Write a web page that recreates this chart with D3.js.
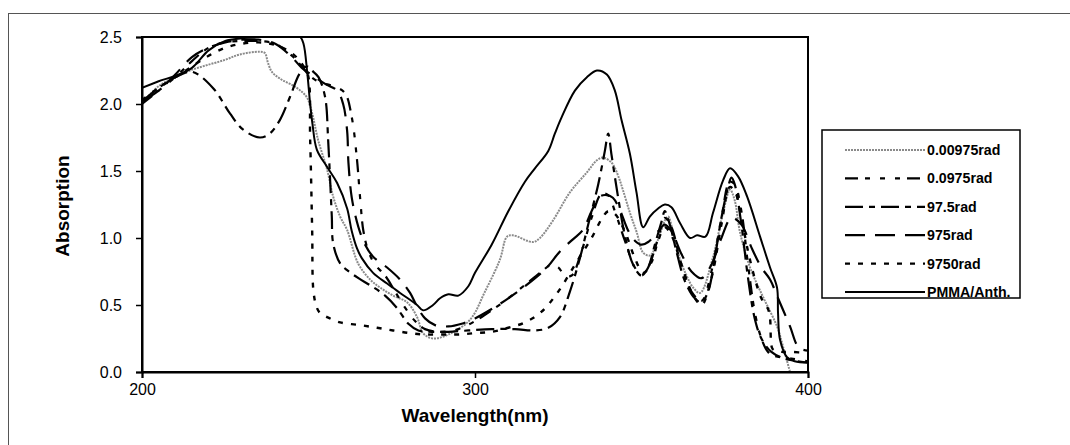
<!DOCTYPE html>
<html><head><meta charset="utf-8">
<script src="https://cdn.jsdelivr.net/npm/d3@7"></script>
<style>
body{margin:0;background:#fff}
svg{display:block}
text{font-family:"Liberation Sans",Arial,sans-serif;fill:#000}
</style></head>
<body><svg id="c" width="1070" height="445"></svg>
<script>
// ---------- data ----------
const xTicks = [200, 300, 400];
const yTicks = [0, 0.5, 1.0, 1.5, 2.0, 2.5];
const seriesNames = ["0.00975rad", "0.0975rad", "97.5rad", "975rad", "9750rad", "PMMA/Anth."];

const wl_00975 = [200,205.4,210,214.4,219.5,225,229.4,235.4,236.9,237.8,239,241.4,246.5,249.5,251,252.9,255.6,257.4,259.5,261.6,264.9,268.5,271.5,275.4,279.6,282.6,284.4,287.4,292,298.5,303,307.5,309.6,311.4,317.4,319.5,323.4,328.5,333.6,336.6,338.4,341.1,342.9,344.4,346.5,348.6,350.5,352.6,355,357,358,359.5,361.6,363.7,365.5,367.6,371.5,374.5,376.6,378,379.6,382.6,386.5,390.7,392.5,394.6];
const ab_00975 = [2.01,2.14,2.2,2.25,2.29,2.33,2.37,2.39,2.38,2.31,2.24,2.19,2.12,2.05,1.94,1.73,1.51,1.31,1.16,1.06,0.81,0.69,0.63,0.57,0.52,0.41,0.29,0.25,0.28,0.39,0.6,0.84,1.01,1.02,0.97,1.0,1.13,1.34,1.49,1.58,1.6,1.56,1.47,1.36,1.19,1.04,0.89,0.87,0.99,1.13,1.16,1.04,0.84,0.71,0.63,0.59,0.86,1.19,1.36,1.28,1.04,0.78,0.56,0.34,0.19,0.0];

const wl_0975 = [200,205,210,215,220,225,230,235,240,245,248,250,252,255,258,261,263,264.5,265.5,266.5,268,270,273,276,279,282,285,290,295,300,305,310,315,320,323,325,327,329,332,335,338,340,342,345,348,350,352,355,357,359,362,365,368,371,374,376.5,378,380,382,384,386,388,390,395,400];
const ab_0975 = [2.0,2.1,2.2,2.32,2.42,2.46,2.47,2.47,2.45,2.36,2.28,2.22,2.18,2.15,2.13,2.08,1.9,1.6,1.3,1.05,0.9,0.8,0.72,0.6,0.48,0.38,0.32,0.3,0.32,0.38,0.46,0.55,0.65,0.75,0.8,0.78,0.72,0.72,0.9,1.15,1.33,1.32,1.2,0.98,0.78,0.72,0.78,1.0,1.15,1.08,0.8,0.6,0.53,0.75,1.15,1.42,1.4,1.2,0.8,0.45,0.25,0.15,0.12,0.1,0.08];

const wl_975r = [200,205,210,215,221.3,226.4,230.3,235.4,238.4,241.4,244.4,247.4,249.5,251,253,255,255.9,256.5,257,257.4,259.5,261.6,265,269,273,276.5,280,283,287,292,298,305,312,318,322,325.5,328.5,331.5,334,337,339,340,341,343,345,347.5,350,352,354,356,357,358.5,360.5,363,366,368,370,372,374,376,377,378,380,382,384,386,389,393,400];
const ab_975r = [2.02,2.12,2.2,2.24,2.12,1.93,1.81,1.75,1.78,1.88,2.05,2.23,2.28,2.25,2.2,2.05,1.73,1.43,1.16,0.96,0.81,0.76,0.7,0.64,0.57,0.48,0.36,0.31,0.3,0.3,0.31,0.32,0.32,0.31,0.33,0.41,0.6,0.85,1.1,1.4,1.65,1.78,1.62,1.3,1.02,0.8,0.72,0.78,0.95,1.12,1.2,1.1,0.9,0.68,0.55,0.52,0.6,0.85,1.15,1.38,1.45,1.4,1.1,0.7,0.4,0.25,0.15,0.1,0.07];

const wl_975 = [200,205,210,215,220,225,230,235,240,245,248,252,255,258.6,260.4,261.6,262,263,265,267,269.4,273.6,277.5,280.5,282.6,285,288,292,296,300,305,310,315,321.6,325.5,329.4,332.4,335,337.5,339.6,341.4,343.5,345.9,348,350,352,355,357,359,362,365,368,371,374,377,380,383,386,388.6,391,394.6,396.7,398,400];
const ab_975 = [2.02,2.1,2.22,2.35,2.42,2.46,2.48,2.48,2.45,2.35,2.27,2.2,2.15,2.1,2.0,1.8,1.56,1.3,1.08,0.95,0.86,0.78,0.69,0.59,0.49,0.4,0.35,0.34,0.36,0.4,0.47,0.55,0.64,0.78,0.9,0.99,1.06,1.2,1.31,1.32,1.3,1.21,1.06,0.98,0.95,0.97,1.05,1.1,1.05,0.88,0.75,0.7,0.8,1.0,1.15,1.1,0.93,0.78,0.69,0.55,0.34,0.2,0.17,0.16];

const wl_9750 = [200,205,210,215,220,225,230,235,240,245,248,249.8,250.5,251.1,251.5,252.5,253.5,255.6,259.5,265.5,270.6,275.4,280.5,285,290,295,300,305,310,315,320,325,330,335,338,340,342,345,348,350.5,353,355,357,359,362,365,368,371,374,376.5,378,380,382,384,386,388,388.6,389.2,390,392,395,400];
const ab_9750 = [2.03,2.12,2.2,2.28,2.36,2.42,2.45,2.46,2.44,2.38,2.3,2.22,1.73,1.06,0.6,0.48,0.44,0.41,0.37,0.35,0.33,0.31,0.29,0.28,0.28,0.28,0.29,0.3,0.33,0.37,0.45,0.6,0.8,1.0,1.14,1.2,1.18,1.05,0.85,0.74,0.82,0.98,1.08,1.02,0.8,0.6,0.5,0.7,1.1,1.38,1.35,1.15,0.9,0.7,0.55,0.47,0.4,0.18,0.16,0.15,0.15,0.14];

const wl_pmma = [200,205,210,215,220,225,230,235,240,245,247.5,248.5,249.6,250.5,251.2,252.5,255.6,258.6,261.6,263,264.6,266,269.4,273.6,277.5,282.6,284.4,287.4,289.5,292,295,298,300,305,310,315,318,322,324,326,330,333.6,336.6,339.6,342,344,346.5,348.5,350.5,352.5,355,357,359,361.6,364.6,366.7,369.2,371.5,374.5,376.6,379,381.7,385.6,388.6,390.7,391,391.6,393.7,396,400];
const ab_pmma = [2.12,2.17,2.21,2.27,2.40,2.47,2.49,2.50,2.50,2.50,2.50,2.45,2.24,2.0,1.85,1.66,1.53,1.41,1.22,1.05,0.92,0.85,0.74,0.66,0.59,0.50,0.46,0.50,0.55,0.58,0.57,0.64,0.74,0.95,1.2,1.42,1.52,1.65,1.78,1.9,2.1,2.2,2.25,2.22,2.1,1.88,1.63,1.34,1.08,1.16,1.22,1.25,1.23,1.11,1.0,1.02,1.01,1.19,1.43,1.52,1.46,1.31,1.01,0.78,0.63,0.44,0.24,0.11,0.08,0.07];

// ---------- layout ----------
const svg = d3.select("#c");
const L = 142, R = 808, T = 37, B = 372;
const x = d3.scaleLinear().domain([200, 400]).range([L, R]);
const y = d3.scaleLinear().domain([0, 2.5]).range([B, T]);

// outer chart border (only top/left visible)
svg.append("rect").attr("x", 8.5).attr("y", 13.5).attr("width", 1200).attr("height", 600)
  .attr("fill", "none").attr("stroke", "#555").attr("stroke-width", 1);

svg.append("clipPath").attr("id", "clip").append("rect")
  .attr("x", L).attr("y", T - 1).attr("width", R - L).attr("height", B - T + 1);

const styles = [
  {wl: wl_00975, ab: ab_00975, color: "#8a8a8a", width: 2, dash: "2,1"},
  {wl: wl_0975, ab: ab_0975, color: "#000", width: 2.2, dash: "13,7,5,10,5,10,5,7"},
  {wl: wl_975r, ab: ab_975r, color: "#000", width: 2.2, dash: "18,6,6,6"},
  {wl: wl_975, ab: ab_975, color: "#000", width: 2.2, dash: "20,10"},
  {wl: wl_9750, ab: ab_9750, color: "#000", width: 2.4, dash: "5,8"},
  {wl: wl_pmma, ab: ab_pmma, color: "#000", width: 2, dash: null}
];

const line = d3.line().x(d => x(d[0])).y(d => y(d[1])).curve(d3.curveCatmullRom.alpha(0.5));
const g = svg.append("g").attr("clip-path", "url(#clip)");
styles.forEach(s => {
  g.append("path")
    .datum(s.wl.map((w, i) => [w, s.ab[i]]))
    .attr("d", line)
    .attr("fill", "none")
    .attr("stroke", s.color)
    .attr("stroke-width", s.width)
    .attr("stroke-dasharray", s.dash)
    .attr("stroke-linejoin", "round");
});

// plot frame
svg.append("rect").attr("x", L).attr("y", T).attr("width", R - L).attr("height", B - T)
  .attr("fill", "none").attr("stroke", "#000").attr("stroke-width", 2);

// axes
const yAxis = svg.append("g").attr("transform", `translate(${L},0)`)
  .call(d3.axisLeft(y).tickValues(yTicks).tickFormat(d3.format(".1f")).tickSize(6).tickPadding(14));
const xAxis = svg.append("g").attr("transform", `translate(0,${B})`)
  .call(d3.axisBottom(x).tickValues(xTicks).tickFormat(d3.format("d")).tickSize(6).tickPadding(6));
[yAxis, xAxis].forEach(a => {
  a.select(".domain").attr("stroke", "#000").attr("stroke-width", 2);
  a.selectAll(".tick line").attr("stroke", "#000").attr("stroke-width", 1.5);
  a.selectAll(".tick text").attr("font-family", "Liberation Sans, Arial, sans-serif")
    .attr("font-size", 16).attr("fill", "#000");
});

// titles
svg.append("text").attr("x", (L + R) / 2).attr("y", 422).attr("text-anchor", "middle")
  .attr("font-size", 19).attr("font-weight", "bold").text("Wavelength(nm)");
svg.append("text").attr("transform", "translate(69,206) rotate(-90)").attr("text-anchor", "middle")
  .style("font-family", "'Liberation Sans Narrow','Liberation Sans',Arial,sans-serif")
  .attr("font-size", 19).attr("font-weight", "bold").text("Absorption");

// legend
const lg = svg.append("g");
lg.append("rect").attr("x", 822).attr("y", 130).attr("width", 198).attr("height", 168)
  .attr("fill", "#fff").attr("stroke", "#000").attr("stroke-width", 1.5);
seriesNames.forEach((n, i) => {
  const yy = 150 + i * 28.4;
  const s = styles[i];
  lg.append("line").attr("x1", 845).attr("x2", 925).attr("y1", yy).attr("y2", yy)
    .attr("stroke", s.color).attr("stroke-width", s.width).attr("stroke-dasharray", s.dash);
  lg.append("text").attr("x", 927).attr("y", yy).attr("dy", "0.35em")
    .attr("font-size", 14.2).attr("font-weight", "bold").text(n);
});
</script>
</body></html>
